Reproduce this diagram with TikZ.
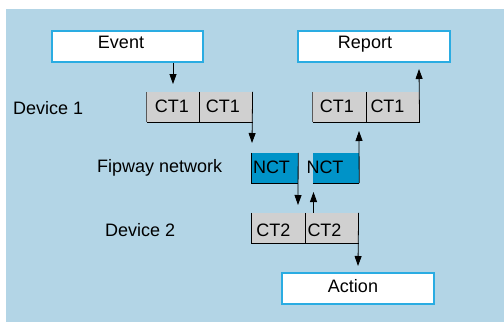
\documentclass[tikz,border=0pt]{standalone}
\usepackage{fontspec}
\setmainfont{Liberation Sans}
\usepackage{xcolor}
\usepackage{tikz}
\usetikzlibrary{calc, arrows.meta, positioning}

\definecolor{bgblue}{RGB}{179,213,230}
\definecolor{framecyan}{RGB}{42,172,226}
\definecolor{nctblue}{RGB}{0,147,200}
\definecolor{cellgray}{RGB}{208,208,208}

\tikzset{
    msgbox/.style={draw=framecyan, line width=1.5pt, fill=white, minimum height=31pt, inner sep=0pt},
    ctcell/.style={fill=cellgray, minimum height=30pt, inner sep=0pt},
    nctcell/.style={fill=nctblue, minimum height=30pt, minimum width=46pt, inner sep=0pt},
    txt/.style={anchor=base, inner sep=0pt, font=\fontsize{18}{21}\selectfont},
    sidetxt/.style={txt, anchor=base west},
    edge/.style={line width=0.8pt},
}

\begin{document}
\begin{tikzpicture}[x=1pt, y=-1pt, >={Triangle[length=10pt,width=7pt]}]
    % fond
    \fill[white] (0,0) rectangle (504,322);
    \fill[bgblue] (6,9) rectangle (504,322);
    \useasboundingbox (0,0) rectangle (504,322);

    % boites de message
    \node[msgbox, minimum width=151pt] (event) at (127.5,46.5) {};
    \node[msgbox, minimum width=152pt] (report) at (374,46.5) {};
    \node[msgbox, minimum width=152pt] (action) at (358,288.5) {};
    \node[txt] (eventtxt) at (121,48) {Event};
    \node[txt] (reporttxt) at (365,48) {Report};
    \node[txt] (actiontxt) at (353,292) {Action};

    % Device 1 : cellules CT1
    \node[ctcell, minimum width=52pt] (ctA1) at (173,107) {};
    \node[ctcell, minimum width=53pt, right=0pt of ctA1] (ctA2) {};
    \node[ctcell, minimum width=53pt] (ctB1) at (339.5,107) {};
    \node[ctcell, minimum width=53pt, right=0pt of ctB1] (ctB2) {};
    \node[txt] (ctA1txt) at (172,112) {CT1};
    \node[txt] (ctA2txt) at (223,112) {CT1};
    \node[txt] (ctB1txt) at (337,112) {CT1};
    \node[txt] (ctB2txt) at (387.5,112) {CT1};

    % reseau : cellules NCT
    \node[nctcell] (nctA) at (275,168) {};
    \node[nctcell] (nctB) at (336,168) {};
    \node[txt] (nctAtxt) at (271.5,173) {NCT};
    \node[txt] (nctBtxt) at (325,173) {NCT};

    % Device 2 : cellules CT2
    \node[ctcell, minimum width=53pt] (ctC1) at (278.5,228) {};
    \node[ctcell, minimum width=53pt, right=0pt of ctC1] (ctC2) {};
    \node[txt] (ctC1txt) at (273.5,236) {CT2};
    \node[txt] (ctC2txt) at (324.5,236) {CT2};

    % libelles a gauche
    \node[sidetxt] (dev1) at (13,114) {Device 1};
    \node[sidetxt] (fipway) at (97,172) {Fipway network};
    \node[sidetxt] (dev2) at (105,236) {Device 2};

    % bords des cellules
    \draw[edge, gray!70!black] (ctA1.north west) -- (ctA1.south west);
    \draw[edge] (ctA1.south west) -- (ctA2.south east);
    \draw[edge] (ctA1.north east) -- (ctA1.south east);
    \draw[edge, gray!70!black] (ctB1.north west) -- (ctB1.south west);
    \draw[edge] (ctB1.south west) -- (ctB2.south east);
    \draw[edge] (ctB1.north east) -- (ctB1.south east);
    \draw[edge] (nctA.north west) -- (nctA.south west) -- (nctA.south east);
    \draw[edge] (nctB.south west) -- (nctB.south east);
    \draw[edge] (ctC1.north west) -- (ctC1.south west) -- (ctC2.south east);
    \draw[edge] (ctC1.north east) -- (ctC1.south east);

    % extremites libres des fleches
    \coordinate (tipEvent) at (173,84);
    \coordinate (tipNctA) at (252,143);
    \coordinate (tipCtC) at (298,205);
    \coordinate (tipNctB) at (313.5,192);
    \coordinate (tipCtB) at (359,131);
    \coordinate (tipReport) at (419,69);
    \coordinate (tipAction) at (358,266);

    % fleches
    \draw[edge, ->] (event.south -| ctA1.north) -- (tipEvent);
    \draw[edge, ->] (ctA2.north east) -- (tipNctA);
    \draw[edge, ->] (nctA.north east) -- (tipCtC);
    \draw[edge, ->] (tipNctB |- ctC2.north) -- (tipNctB);
    \draw[edge, ->] (nctB.south east) -- (tipCtB);
    \draw[edge, ->] (ctB2.south east) -- (tipReport);
    \draw[edge, ->] (ctC2.north east) -- (tipAction);
\end{tikzpicture}
\end{document}
